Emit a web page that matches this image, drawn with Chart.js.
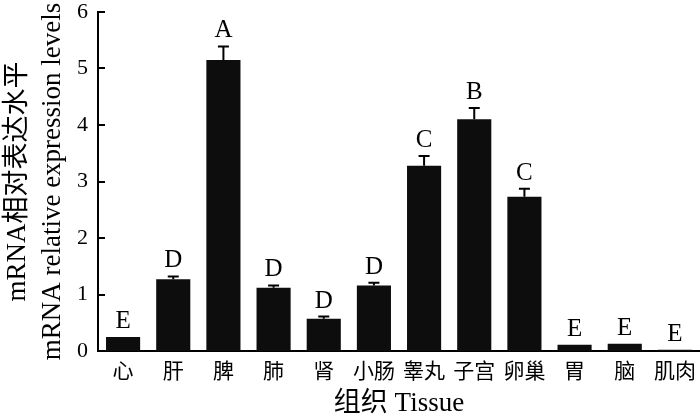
<!DOCTYPE html>
<html><head><meta charset="utf-8">
<script src="https://cdn.jsdelivr.net/npm/chart.js@4/dist/chart.umd.min.js"></script>
<style>html,body{margin:0;padding:0;background:#fff}#wrap{width:700px;height:420px;position:relative}</style>
</head><body><div id="wrap"><canvas id="c" width="700" height="420"></canvas></div>
<script>
const categories = ['心','肝','脾','肺','肾','小肠','睾丸','子宫','卵巢','胃','脑','肌肉'];
const values = [0.25, 1.27, 5.15, 1.12, 0.57, 1.16, 3.28, 4.10, 2.73, 0.11, 0.13, 0.02];
const errors = [0.00, 0.05, 0.24, 0.04, 0.04, 0.05, 0.17, 0.20, 0.14, 0.00, 0.00, 0.00];
const letters = ['E','D','A','D','D','D','C','B','C','E','E','E'];
const yTicks = [0,1,2,3,4,5,6];
const yTitle = ['mRNA相对表达水平','mRNA relative expression levels'];
const xTitle = '组织 Tissue';

const FONT = '"Liberation Serif", "Noto Sans CJK SC", serif';

const extras = {
  id: 'extras',
  afterDatasetsDraw(chart) {
    const ctx = chart.ctx;
    const x = chart.scales.x, y = chart.scales.y;
    const meta = chart.getDatasetMeta(0);
    ctx.save();
    ctx.strokeStyle = '#000';
    ctx.fillStyle = '#000';
    ctx.lineWidth = 2;
    yTicks.forEach(v => {
      const py = Math.round(y.getPixelForValue(v));
      ctx.beginPath();
      ctx.moveTo(x.left, py);
      ctx.lineTo(x.left + 7, py);
      ctx.stroke();
    });
    ctx.font = '25px ' + FONT;
    ctx.textAlign = 'center';
    ctx.textBaseline = 'alphabetic';
    meta.data.forEach((bar, i) => {
      const cx = bar.x;
      const top = y.getPixelForValue(values[i] + errors[i]);
      if (errors[i] > 0) {
        ctx.beginPath();
        ctx.moveTo(cx, bar.y);
        ctx.lineTo(cx, top);
        ctx.moveTo(cx - 5.5, top);
        ctx.lineTo(cx + 5.5, top);
        ctx.stroke();
      }
      ctx.fillText(letters[i], cx, top - 9);
    });
    ctx.restore();
  }
};

new Chart(document.getElementById('c'), {
  type: 'bar',
  data: {
    labels: categories,
    datasets: [{
      data: values,
      backgroundColor: '#0d0d0d',
      borderWidth: 0,
      barPercentage: 0.68,
      categoryPercentage: 1.0
    }]
  },
  options: {
    responsive: false,
    animation: false,
    devicePixelRatio: 1,
    layout: { padding: { top: 12, right: 0, left: 0, bottom: 0 } },
    plugins: { legend: { display: false }, tooltip: { enabled: false } },
    scales: {
      x: {
        grid: { display: false, drawTicks: false },
        border: { display: true, color: '#000', width: 2 },
        ticks: { color: '#000', font: { family: FONT, size: 21 }, padding: 9, maxRotation: 0, autoSkip: false },
        title: { display: true, text: xTitle, color: '#000', font: { family: FONT, size: 27 }, padding: { top: 0, bottom: 0 } },
        afterFit(s) { s.height = 69; s.paddingLeft = 0; s.paddingRight = 0; }
      },
      y: {
        min: 0, max: 6,
        grid: { display: false, drawTicks: false },
        border: { display: true, color: '#000', width: 2 },
        ticks: { stepSize: 1, color: '#000', font: { family: FONT, size: 22 }, padding: 10 },
        title: { display: true, text: yTitle, color: '#000', font: { family: FONT, size: 27, lineHeight: 1.3 }, padding: 0 },
        afterFit(s) { s.width = 98; s.paddingTop = 0; s.paddingBottom = 0; }
      }
    }
  },
  plugins: [extras]
});
</script>
</body></html>
